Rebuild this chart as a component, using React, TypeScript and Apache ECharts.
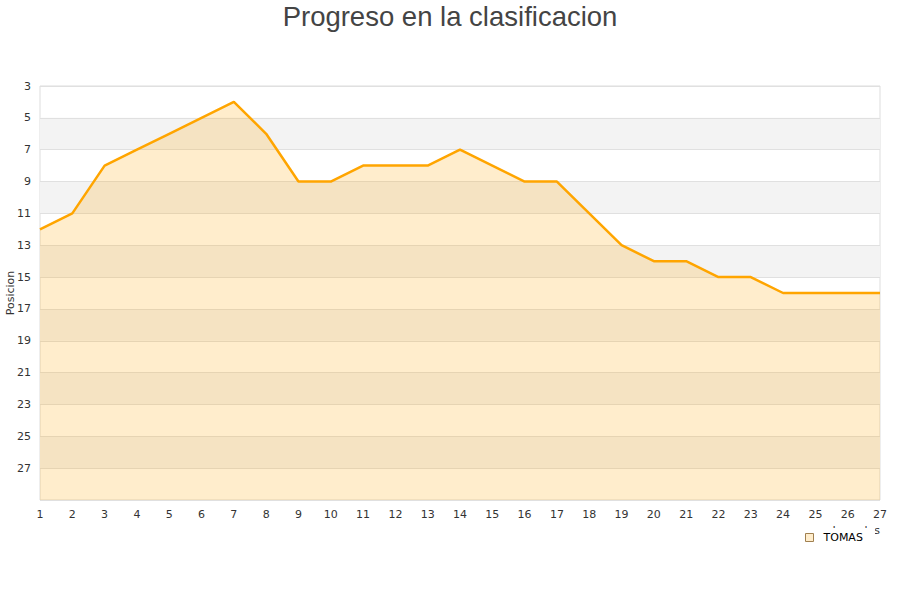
import React, { useEffect, useRef } from "react";
import * as echarts from "echarts";

const jornadas: string[] = [
  "1", "2", "3", "4", "5", "6", "7", "8", "9", "10", "11", "12", "13", "14",
  "15", "16", "17", "18", "19", "20", "21", "22", "23", "24", "25", "26", "27",
];
const tomasPosicion: number[] = [
  12, 11, 8, 7, 6, 5, 4, 6, 9, 9, 8, 8, 8, 7, 8, 9, 9, 11, 13, 14, 14, 15, 15, 16, 16, 16, 16,
];
const seriesName = "TOMAS";
const titleText = "Progreso en la clasificacion";
const yAxisName = "Posicion";
const xAxisName = "Jornadas";

export default function App() {
  const ref = useRef<HTMLDivElement>(null);
  useEffect(() => {
    if (!ref.current) return;
    const chart = echarts.init(ref.current, null, { renderer: "svg" });
    const labelFont = "DejaVu Sans";
    chart.setOption({
      animation: false,
      backgroundColor: "#ffffff",
      title: {
        text: titleText,
        left: "center",
        top: -3,
        textStyle: {
          fontFamily: "Liberation Sans",
          fontSize: 27.5,
          fontWeight: "normal",
          color: "#444444",
        },
      },
      grid: {
        left: 40,
        right: 20,
        top: 86,
        bottom: 100,
        containLabel: false,
        outerBoundsMode: "none",
        show: true,
        borderColor: "#dddddd",
        borderWidth: 1,
        backgroundColor: "transparent",
      },
      legend: {
        left: 800,
        top: 528,
        z: 10,
        backgroundColor: "#ffffff",
        padding: [4, 12, 4, 5],
        icon: "rect",
        itemWidth: 8,
        itemHeight: 8,
        itemGap: 5,
        textStyle: { fontFamily: labelFont, fontSize: 11, color: "#000000", padding: [0, 0, 0, 5] },
        data: [
          {
            name: seriesName,
            itemStyle: { color: "#ffedcc", borderColor: "#a08050", borderWidth: 1 },
          },
        ],
      },
      graphic: [
        {
          type: "text",
          z: 1,
          right: 20,
          top: 525,
          style: {
            text: xAxisName,
            fontFamily: labelFont,
            fontSize: 11,
            fill: "#333333",
          },
        },
      ],
      xAxis: {
        type: "category",
        data: jornadas,
        boundaryGap: false,
        axisLine: { show: false },
        axisTick: { show: false },
        splitLine: { show: false },
        axisLabel: {
          fontFamily: labelFont,
          fontSize: 11,
          color: "#333333",
          margin: 9,
          interval: 0,
        },
      },
      yAxis: {
        type: "value",
        inverse: true,
        min: 3,
        max: 29,
        interval: 2,
        name: yAxisName,
        nameLocation: "middle",
        nameGap: 24,
        nameMoveOverlap: false,
        nameTextStyle: { fontFamily: labelFont, fontSize: 11, color: "#333333" },
        axisLine: { show: false },
        axisTick: { show: false },
        axisLabel: {
          fontFamily: labelFont,
          fontSize: 11,
          color: "#333333",
          margin: 9,
          showMaxLabel: false,
        },
        splitLine: { show: true, lineStyle: { color: "#e0e0e0", width: 1 } },
        splitArea: {
          show: true,
          areaStyle: { color: ["rgba(255,255,255,0)", "rgba(243,243,243,1)"] },
        },
      },
      series: [
        {
          name: seriesName,
          type: "line",
          data: tomasPosicion,
          showSymbol: false,
          symbol: "none",
          lineStyle: { color: "#ffa500", width: 2.5 },
          itemStyle: { color: "#ffa500" },
          areaStyle: { color: "rgba(255,165,0,0.2)", opacity: 1, origin: "end" },
        },
      ],
    });
    return () => chart.dispose();
  }, []);
  return (
    <div
      ref={ref}
      style={{ position: "fixed", left: 0, top: 0, width: 900, height: 600 }}
    />
  );
}
